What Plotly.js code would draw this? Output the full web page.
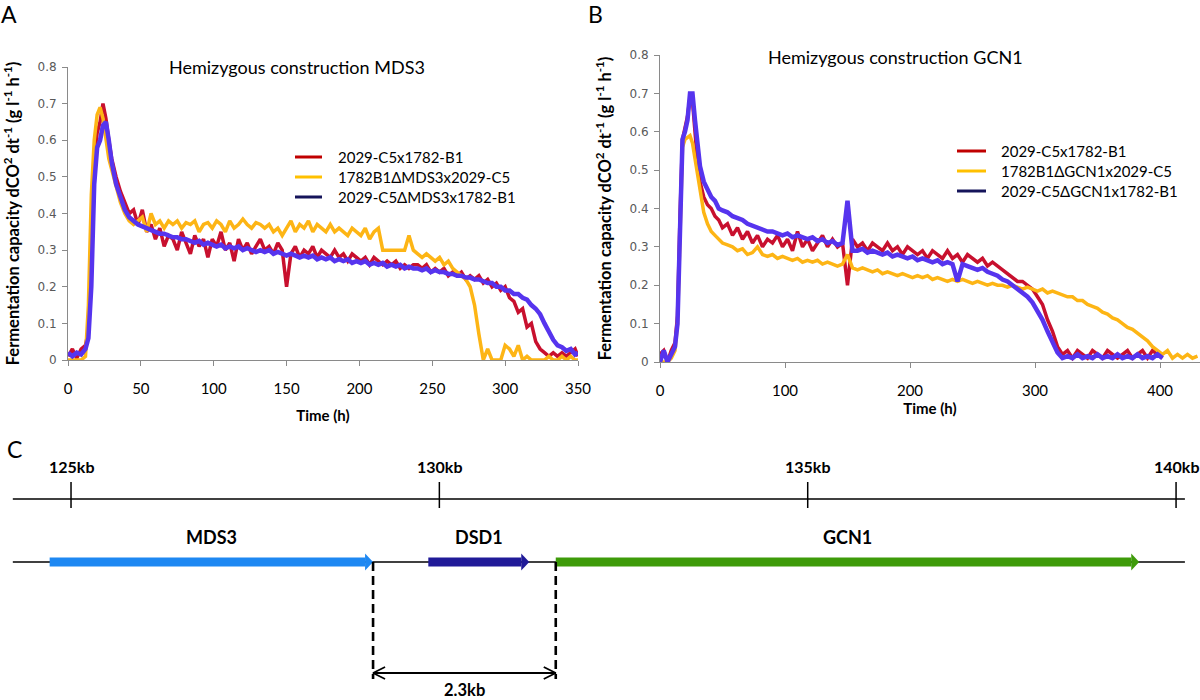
<!DOCTYPE html>
<html>
<head>
<meta charset="utf-8">
<script src="https://cdn.plot.ly/plotly-3.0.1.min.js"></script>
<style>body{margin:0;background:#fff}#chart{width:1200px;height:700px}</style>
</head>
<body>
<div id="chart"></div>
<script>
// ---------------- DATA ----------------
// Panel A : Hemizygous construction MDS3
const timeA = [0,3,6,9,12,14,16,18,20,22,24,26,28,30,33,36,39,42,45,48,
  51,54,57,60,63,66,69,72,75,78,
  81,84,87,90,93,96,99,102,105,108,
  111,114,117,120,123,126,129,132,135,138,
  141,144,147,150,153,156,159,162,165,168,
  171,174,177,180,183,186,189,192,195,198,
  201,204,207,210,213,216,219,222,225,228,
  231,234,237,240,243,246,249,252,255,258,
  261,264,267,270,273,276,279,282,285,288,
  291,294,297,300,303,306,309,312,315,318,
  321,324,327,330,333,336,339,342,345,348,
  350];
const redA = [0.01,0.03,0.005,0.03,0.04,0.08,0.30,0.55,0.62,0.65,0.70,0.66,0.60,0.55,0.50,0.46,0.43,0.40,0.41,0.37,
  0.41,0.35,0.37,0.33,0.36,0.31,0.34,0.33,0.30,0.35,
  0.32,0.29,0.34,0.31,0.33,0.28,0.33,0.31,0.35,0.30,
  0.32,0.27,0.33,0.30,0.32,0.29,0.31,0.33,0.30,0.31,
  0.29,0.32,0.30,0.20,0.29,0.31,0.28,0.30,0.29,0.31,
  0.28,0.30,0.29,0.28,0.30,0.28,0.29,0.27,0.29,0.28,
  0.27,0.28,0.26,0.28,0.27,0.26,0.27,0.26,0.27,0.25,
  0.26,0.25,0.26,0.26,0.25,0.26,0.24,0.25,0.24,0.25,
  0.23,0.24,0.23,0.24,0.22,0.23,0.22,0.23,0.21,0.22,
  0.20,0.21,0.19,0.20,0.17,0.16,0.13,0.14,0.09,0.10,
  0.05,0.03,0.02,0.01,0.02,0.01,0.02,0.01,0.02,0.03,
  0.01];
const yellowA = [0,0,0,0,0.01,0.15,0.45,0.60,0.67,0.69,0.66,0.60,0.55,0.52,0.47,0.43,0.40,0.38,0.37,0.38,
  0.39,0.35,0.40,0.37,0.38,0.36,0.38,0.37,0.38,0.36,
  0.375,0.37,0.38,0.35,0.37,0.375,0.36,0.38,0.37,0.35,
  0.38,0.36,0.37,0.385,0.37,0.36,0.375,0.37,0.36,0.37,
  0.35,0.36,0.34,0.36,0.38,0.35,0.37,0.36,0.38,0.35,
  0.37,0.36,0.35,0.37,0.35,0.36,0.35,0.34,0.36,0.35,
  0.34,0.36,0.33,0.35,0.36,0.30,0.30,0.30,0.30,0.30,
  0.30,0.34,0.30,0.29,0.28,0.29,0.28,0.27,0.28,0.26,
  0.27,0.25,0.24,0.23,0.22,0.20,0.15,0.07,0.0,0.03,
  0.0,0.0,0.0,0.04,0.03,0.01,0.04,0.0,0.01,0.0,
  0,0,0,0.01,0,0,0.01,0,0.01,0,
  0];
const blueA = [0.02,0.01,0.02,0.015,0.03,0.06,0.20,0.48,0.58,0.60,0.64,0.65,0.60,0.54,0.48,0.44,0.41,0.39,0.38,0.37,
  0.365,0.36,0.355,0.35,0.345,0.345,0.34,0.335,0.335,0.33,
  0.33,0.325,0.32,0.325,0.315,0.32,0.315,0.31,0.315,0.305,
  0.31,0.305,0.31,0.30,0.305,0.30,0.295,0.30,0.295,0.30,
  0.29,0.295,0.29,0.285,0.29,0.285,0.28,0.285,0.28,0.285,
  0.275,0.28,0.275,0.28,0.27,0.275,0.27,0.275,0.265,0.27,
  0.265,0.27,0.26,0.265,0.26,0.265,0.255,0.26,0.255,0.26,
  0.25,0.255,0.25,0.25,0.245,0.25,0.24,0.245,0.24,0.24,
  0.235,0.235,0.23,0.23,0.225,0.225,0.22,0.22,0.215,0.21,
  0.21,0.20,0.20,0.19,0.19,0.18,0.18,0.17,0.165,0.15,
  0.14,0.125,0.10,0.075,0.055,0.04,0.035,0.025,0.03,0.015,
  0.02];
const namesA = ['2029-C5x1782-B1','1782B1\u0394MDS3x2029-C5','2029-C5\u0394MDS3x1782-B1'];
const titleA = 'Hemizygous construction MDS3';

// Panel B : Hemizygous construction GCN1
const timeB = [0,3,6,9,12,14,16,18,20,22,
  24,26,28,30,32,35,38,41,44,47,
  50,54,58,62,66,70,74,78,82,86,
  90,94,98,102,106,110,114,118,122,126,
  130,134,138,142,146,150,154,158,162,166,
  170,174,178,182,186,190,194,198,202,206,
  210,214,218,222,226,230,234,238,242,246,
  250,254,258,262,266,270,274,278,282,286,
  290,294,298,302,306,310,314,318,322,326,
  330,334,338,342,346,350,354,358,362,366,
  370,374,378,382,386,390,394,398,402,406,
  410,414,418,422,426,430];
const redB = [0.02,0.03,0.0,0.03,0.05,0.12,0.38,0.58,0.61,0.64,
  0.69,0.68,0.60,0.52,0.47,0.43,0.41,0.40,0.38,0.37,
  0.35,0.36,0.33,0.35,0.32,0.34,0.31,0.33,0.30,0.32,
  0.31,0.33,0.30,0.32,0.29,0.34,0.30,0.32,0.29,0.31,
  0.33,0.30,0.32,0.30,0.31,0.20,0.32,0.30,0.31,0.29,
  0.31,0.30,0.29,0.31,0.29,0.30,0.28,0.30,0.29,0.28,
  0.29,0.27,0.29,0.28,0.27,0.29,0.27,0.28,0.26,0.28,
  0.27,0.26,0.27,0.25,0.26,0.25,0.24,0.23,0.22,0.21,
  0.21,0.20,0.19,0.17,0.15,0.11,0.08,0.04,0.02,0.03,
  0.01,0.03,0.02,0.01,0.03,0.02,0.01,0.03,0.02,0.01,
  0.02,0.03,0.01,0.02,0.03,0.01,0.03,0.02,0.01,null,
  null,null,null,null,null,null];
const yellowB = [0.0,0.0,0.0,0.01,0.03,0.10,0.35,0.56,0.58,0.585,
  0.59,0.57,0.53,0.49,0.44,0.39,0.36,0.34,0.33,0.32,
  0.31,0.305,0.30,0.29,0.295,0.28,0.285,0.30,0.28,0.275,
  0.28,0.27,0.275,0.27,0.265,0.27,0.26,0.265,0.26,0.265,
  0.255,0.26,0.255,0.25,0.255,0.28,0.245,0.24,0.245,0.24,
  0.235,0.24,0.23,0.235,0.23,0.225,0.23,0.225,0.22,0.225,
  0.22,0.225,0.215,0.22,0.215,0.21,0.215,0.21,0.215,0.21,
  0.205,0.21,0.205,0.20,0.205,0.20,0.20,0.195,0.20,0.195,
  0.19,0.195,0.19,0.185,0.19,0.18,0.185,0.18,0.175,0.17,
  0.17,0.16,0.16,0.15,0.145,0.14,0.13,0.125,0.115,0.11,
  0.10,0.09,0.085,0.075,0.065,0.055,0.04,0.03,0.02,0.03,
  0.01,0.02,0.01,0.02,0.01,0.015];
const blueB = [0.0,0.03,0.0,0.02,0.04,0.10,0.35,0.58,0.60,0.63,
  0.70,0.70,0.63,0.56,0.51,0.47,0.45,0.43,0.42,0.40,
  0.395,0.39,0.38,0.375,0.37,0.36,0.355,0.35,0.345,0.34,
  0.34,0.335,0.33,0.335,0.325,0.33,0.325,0.32,0.325,0.315,
  0.32,0.31,0.315,0.305,0.31,0.42,0.29,0.29,0.295,0.285,
  0.29,0.285,0.28,0.285,0.275,0.28,0.275,0.27,0.275,0.265,
  0.27,0.265,0.26,0.265,0.255,0.26,0.255,0.21,0.255,0.25,
  0.245,0.24,0.245,0.235,0.23,0.225,0.215,0.21,0.20,0.19,
  0.18,0.17,0.155,0.135,0.11,0.08,0.05,0.025,0.01,0.015,
  0.01,0.02,0.01,0.015,0.01,0.02,0.01,0.015,0.01,0.02,
  0.01,0.015,0.01,0.02,0.01,0.015,0.01,0.02,0.01,null,
  null,null,null,null,null,null];
const namesB = ['2029-C5x1782-B1','1782B1\u0394GCN1x2029-C5','2029-C5\u0394GCN1x1782-B1'];
const titleB = 'Hemizygous construction GCN1';

// Panel C : genomic region
const kbTicks = [125, 130, 135, 140];
const kbTickLabels = ['125kb', '130kb', '135kb', '140kb'];
const regionKb = [124.21, 140.12];
const geneNames = ['MDS3', 'DSD1', 'GCN1'];
const geneStart = [124.71, 129.85, 131.58];
const geneEnd = [129.10, 131.22, 139.50];
const gapLabel = '2.3kb';

// ---------------- STYLE ----------------
const W = 1200, H = 700;
const px = v => v / W, py = v => 1 - v / H;
const lineColors = ['#C8102E', '#FDB515', '#5634EE'];
const legendColors = ['#C00000', '#FFC000', '#15145A'];
const lineWidths = [3.5, 3.5, 4.5];
const geneColors = ['#1E88F2', '#201A98', '#3E9B0A'];
const axisGrey = '#8a8a8a';
const FONT = 'Lato, "Open Sans", sans-serif';
const yTitle = '<b>Fermentation capacity dCO<sup>2</sup> dt<sup>-1</sup> (g l<sup>-1</sup> h<sup>-1</sup>)</b>';

const c3Range = [124.036, 140.325];
const kbPerPx = (c3Range[1] - c3Range[0]) / W;
const ROW_AXIS = 499, ROW_GENE = 562, TICK_TOP = 482, TICK_BOT = 508;
const TICKLABEL_Y = 466, GENELABEL_Y = 537, DIM_Y = 673, DASH_BOT = 679, GAPLABEL_Y = 690;

// ---------------- TRACES ----------------
const traces = [];
function addCurves(t, series, names, xa, ya) {
  [0, 1, 2].forEach(i => traces.push({
    x: t, y: series[i], xaxis: xa, yaxis: ya, type: 'scatter', mode: 'lines', name: names[i],
    line: {color: lineColors[i], width: lineWidths[i]}, showlegend: false,
    connectgaps: false, hoverinfo: 'x+y+name'
  }));
}
addCurves(timeA, [redA, yellowA, blueA], namesA, 'x', 'y');
addCurves(timeB, [redB, yellowB, blueB], namesB, 'x2', 'y2');

const c3 = {xaxis: 'x3', yaxis: 'y3', type: 'scatter', hoverinfo: 'skip', showlegend: false};
traces.push(Object.assign({}, c3, {x: regionKb, y: [ROW_AXIS, ROW_AXIS], mode: 'lines', line: {color: '#000', width: 1.5}}));
const tx = [], ty = [];
kbTicks.forEach(k => { tx.push(k, k, null); ty.push(TICK_TOP, TICK_BOT, null); });
traces.push(Object.assign({}, c3, {x: tx, y: ty, mode: 'lines', line: {color: '#000', width: 1.5}}));
traces.push(Object.assign({}, c3, {x: regionKb, y: [ROW_GENE, ROW_GENE], mode: 'lines', line: {color: '#000', width: 1.3}}));
const headLen = 8 * kbPerPx, headHalf = 8.5;
geneNames.forEach((g, i) => {
  traces.push(Object.assign({}, c3, {x: [geneStart[i], geneEnd[i] - headLen], y: [ROW_GENE, ROW_GENE],
    mode: 'lines', line: {color: geneColors[i], width: 9}}));
  traces.push(Object.assign({}, c3, {
    x: [geneEnd[i] - headLen, geneEnd[i], geneEnd[i] - headLen, geneEnd[i] - headLen],
    y: [ROW_GENE - headHalf, ROW_GENE, ROW_GENE + headHalf, ROW_GENE - headHalf],
    mode: 'lines', fill: 'toself', fillcolor: geneColors[i], line: {color: geneColors[i], width: 0}}));
});
const gapL = geneEnd[0], gapR = geneStart[2];
[gapL, gapR].forEach(xk => traces.push(Object.assign({}, c3, {x: [xk, xk], y: [ROW_GENE, DASH_BOT],
  mode: 'lines', line: {color: '#000', width: 2.6, dash: '9px,5px'}})));
traces.push(Object.assign({}, c3, {x: [gapL, gapR], y: [DIM_Y, DIM_Y], mode: 'lines', line: {color: '#000', width: 1.8}}));
const chev = 12 * kbPerPx;
traces.push(Object.assign({}, c3, {x: [gapL + chev, gapL, gapL + chev], y: [DIM_Y - 6, DIM_Y, DIM_Y + 6], mode: 'lines', line: {color: '#000', width: 1.8}}));
traces.push(Object.assign({}, c3, {x: [gapR - chev, gapR, gapR - chev], y: [DIM_Y - 6, DIM_Y, DIM_Y + 6], mode: 'lines', line: {color: '#000', width: 1.8}}));

// ---------------- LAYOUT ----------------
const xCommon = {showline: true, linecolor: axisGrey, linewidth: 1, ticks: 'outside', ticklen: 5, tickcolor: axisGrey,
  showgrid: false, zeroline: false, tickfont: {family: FONT, size: 15, color: '#000'}, ticklabelstandoff: 10};
const yCommon = {showline: true, linecolor: axisGrey, linewidth: 1, ticks: 'outside', ticklen: 5, tickcolor: axisGrey,
  showgrid: false, zeroline: false, range: [0, 0.8], dtick: 0.1, tick0: 0,
  tickfont: {family: '"DejaVu Sans", sans-serif', size: 12, color: '#595959'}, ticklabelstandoff: 3,
  title: {text: yTitle, font: {family: FONT, size: 16.5, color: '#000'}, standoff: 13}};

const ann = (text, x, y, size, extra) => Object.assign({text: text, x: x, y: y, xref: 'paper', yref: 'paper',
  xanchor: 'center', yanchor: 'middle', showarrow: false, font: {family: FONT, size: size, color: '#000'}}, extra || {});
const annotations = [
  ann('A', px(9), py(14), 23), ann('B', px(595), py(14), 23), ann('C', px(14), py(449), 23),
  ann(titleA, px(297), py(67), 18), ann(titleB, px(895), py(57), 18)
];
const shapes = [];
function addLegend(names, lineX0, lineX1, textX, rowY) {
  names.forEach((n, i) => {
    const y = py(rowY + 20 * i);
    shapes.push({type: 'line', xref: 'paper', yref: 'paper', x0: px(lineX0), x1: px(lineX1), y0: y, y1: y,
      line: {color: legendColors[i], width: 3}});
    annotations.push(ann(n, px(textX), y, 15, {xanchor: 'left'}));
  });
}
addLegend(namesA, 295, 322, 336, 157);
addLegend(namesB, 957, 986, 999, 151);

kbTicks.forEach((k, i) => annotations.push({text: '<b>' + kbTickLabels[i] + '</b>', x: k, y: TICKLABEL_Y, xref: 'x3', yref: 'y3',
  xanchor: 'center', yanchor: 'middle', showarrow: false, font: {family: FONT, size: 16, color: '#000'}}));
geneNames.forEach((g, i) => annotations.push({text: '<b>' + g + '</b>', x: (geneStart[i] + geneEnd[i]) / 2, y: GENELABEL_Y,
  xref: 'x3', yref: 'y3', xanchor: 'center', yanchor: 'middle', showarrow: false, font: {family: FONT, size: 18, color: '#000'}}));
annotations.push({text: '<b>' + gapLabel + '</b>', x: (gapL + gapR) / 2, y: GAPLABEL_Y, xref: 'x3', yref: 'y3',
  xanchor: 'center', yanchor: 'middle', showarrow: false, font: {family: FONT, size: 16.5, color: '#000'}});

const layout = {
  width: W, height: H, margin: {l: 0, r: 0, t: 0, b: 0},
  paper_bgcolor: '#fff', plot_bgcolor: 'rgba(0,0,0,0)',
  font: {family: FONT, color: '#000'},
  showlegend: false,
  xaxis: Object.assign({}, xCommon, {domain: [px(68), px(578)], range: [0, 350], dtick: 50, tick0: 0, anchor: 'y',
    title: {text: '<b>Time (h)</b>', font: {family: FONT, size: 15, color: '#000'}, standoff: 14}}),
  yaxis: Object.assign({}, yCommon, {domain: [py(360), py(67)], anchor: 'x'}),
  xaxis2: Object.assign({}, xCommon, {domain: [px(660), 1], range: [0, 432], dtick: 100, tick0: 0, anchor: 'y2',
    title: {text: '<b>Time (h)</b>', font: {family: FONT, size: 15, color: '#000'}, standoff: 2}}),
  yaxis2: Object.assign({}, yCommon, {domain: [py(362), py(55)], anchor: 'x2'}),
  xaxis3: {domain: [0, 1], range: c3Range, visible: false, fixedrange: true, anchor: 'y3'},
  yaxis3: {domain: [0, 1], range: [H, 0], visible: false, fixedrange: true, anchor: 'x3'},
  annotations: annotations,
  shapes: shapes
};

Plotly.newPlot('chart', traces, layout, {displayModeBar: false});
</script>
</body>
</html>
